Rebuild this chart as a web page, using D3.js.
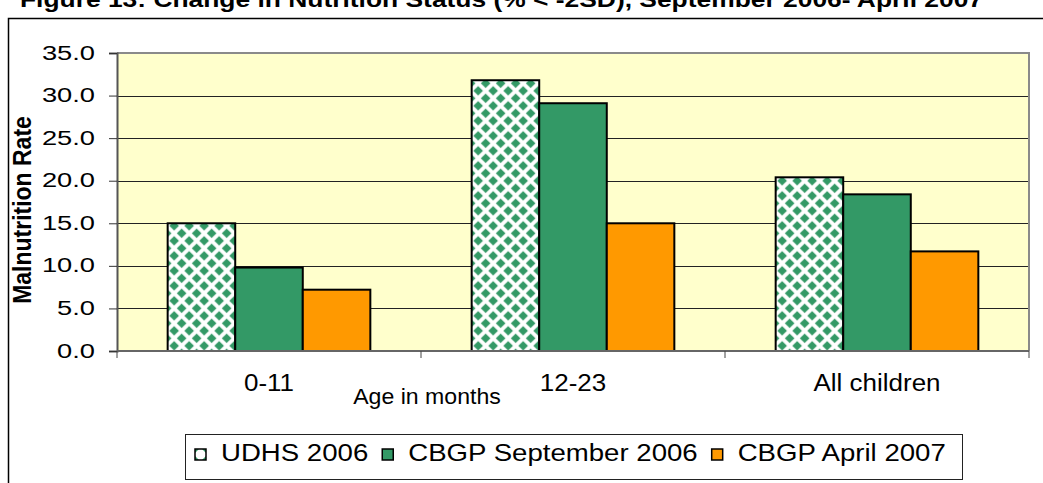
<!DOCTYPE html>
<html>
<head>
<meta charset="utf-8">
<script src="https://cdn.jsdelivr.net/npm/d3@7"></script>
<style>
  body { margin: 0; background: #fff; }
  svg { display: block; font-family: "Liberation Sans", Arial, sans-serif; }
</style>
</head>
<body>
<figure style="margin:0"></figure>
<script>
const categories = ['0-11', '12-23', 'All children'];
const seriesNames = ['UDHS 2006', 'CBGP September 2006', 'CBGP April 2007'];
const udhs2006 = [15.0, 31.8, 20.4];
const cbgpSep2006 = [9.8, 29.1, 18.4];
const cbgpApr2007 = [7.2, 15.0, 11.7];
const yTicks = [0, 5, 10, 15, 20, 25, 30, 35];
const titleText = 'Figure 13: Change in Nutrition Status (% < -2SD), September 2006- April 2007';

(() => {
  const totalWidth = 1043;
  const totalHeight = 483;
  const plot = {left: 117, right: 1029, top: 53, bottom: 351};

  const svg = d3.select('figure').append('svg')
    .attr('width', totalWidth)
    .attr('height', totalHeight);

  // diamond fill used by the UDHS bars
  const defs = svg.append('defs');
  const pat = defs.append('pattern')
    .attr('id', 'diamonds')
    .attr('patternUnits', 'userSpaceOnUse')
    .attr('width', 15).attr('height', 15)
    .attr('x', 6.5).attr('y', 0.8);
  pat.append('rect').attr('width', 15).attr('height', 15).attr('fill', '#fff');
  const diamond = (cx, cy, r) => `M${cx},${cy - r}L${cx + r},${cy}L${cx},${cy + r}L${cx - r},${cy}Z`;
  [[7.5, 7.5], [0, 0], [15, 0], [0, 15], [15, 15]].forEach(([cx, cy]) => {
    pat.append('path').attr('d', diamond(cx, cy, 4.8)).attr('fill', '#339966');
  });

  const swPat = defs.append('pattern')
    .attr('id', 'swatchDiamonds')
    .attr('patternUnits', 'userSpaceOnUse')
    .attr('width', 11).attr('height', 11)
    .attr('x', 195).attr('y', 449);
  swPat.append('rect').attr('width', 11).attr('height', 11).attr('fill', '#fff');
  [[0, 0], [11, 0], [0, 11], [11, 11]].forEach(([cx, cy]) => {
    swPat.append('path').attr('d', diamond(cx, cy, 4)).attr('fill', '#339966');
  });

  const colors = ['url(#diamonds)', '#339966', '#FF9900'];
  const legendColors = ['url(#swatchDiamonds)', '#339966', '#FF9900'];
  const seriesData = [udhs2006, cbgpSep2006, cbgpApr2007];

  // stretched text helper (the original text is a bit wide)
  function label(parent, x, y, txt, size, anchor, sx, weight) {
    return parent.append('text')
      .attr('transform', `translate(${x},${y}) scale(${sx},1)`)
      .attr('text-anchor', anchor)
      .style('font-size', size + 'px')
      .style('font-weight', weight || 'normal')
      .attr('fill', '#000')
      .text(txt);
  }

  // title (cut at the top of the picture, as in the original)
  svg.append('text')
    .attr('x', 20).attr('y', 7)
    .attr('textLength', 963)
    .attr('lengthAdjust', 'spacingAndGlyphs')
    .style('font-size', '22px')
    .style('font-weight', 'bold')
    .text(titleText);

  // outer frame
  svg.append('rect')
    .attr('x', 8.5).attr('y', 18.5)
    .attr('width', 1100).attr('height', 600)
    .attr('fill', 'none')
    .attr('stroke', '#000')
    .attr('stroke-width', 1.5);

  const x0 = d3.scaleBand()
    .domain(categories)
    .range([plot.left, plot.right])
    .paddingInner(1 / 3)
    .paddingOuter(1 / 6);

  const x1 = d3.scaleBand()
    .domain(seriesNames)
    .range([0, x0.bandwidth()]);

  const y = d3.scaleLinear()
    .domain([0, 35])
    .range([plot.bottom, plot.top]);

  // plot background
  svg.append('rect')
    .attr('x', plot.left).attr('y', plot.top)
    .attr('width', plot.right - plot.left)
    .attr('height', plot.bottom - plot.top)
    .attr('fill', '#FFFFCC');

  // gridlines
  svg.append('g')
    .selectAll('line')
    .data(yTicks.filter(t => t > 0 && t < 35))
    .join('line')
      .attr('x1', plot.left).attr('x2', plot.right)
      .attr('y1', d => Math.round(y(d)) + 0.5)
      .attr('y2', d => Math.round(y(d)) + 0.5)
      .attr('stroke', '#222')
      .attr('stroke-width', 1.2);

  // bars
  const groups = svg.append('g')
    .selectAll('g')
    .data(categories)
    .join('g')
      .attr('transform', d => `translate(${x0(d)},0)`);

  groups.selectAll('rect')
    .data((c, ci) => seriesNames.map((s, si) => ({s, si, v: seriesData[si][ci]})))
    .join('rect')
      .attr('x', d => x1(d.s))
      .attr('y', d => y(d.v))
      .attr('width', x1.bandwidth())
      .attr('height', d => y(0) - y(d.v))
      .attr('fill', d => colors[d.si])
      .attr('stroke', '#000')
      .attr('stroke-width', 2);

  // plot border top / right
  svg.append('path')
    .attr('d', `M${plot.left},${plot.top}H${plot.right}V${plot.bottom}`)
    .attr('fill', 'none')
    .attr('stroke', '#8a8a8a')
    .attr('stroke-width', 2);

  // y axis
  const yAxis = d3.axisLeft(y).tickValues(yTicks).tickSize(8).tickFormat('');
  const yGroup = svg.append('g')
    .attr('transform', `translate(${plot.left},0)`)
    .call(yAxis);
  yGroup.select('.domain').attr('stroke', '#555').attr('stroke-width', 2);
  yGroup.selectAll('.tick line').attr('stroke', '#333');

  yTicks.forEach(t => {
    label(svg, 95, y(t) + 6.5, d3.format('.1f')(t), 21, 'end', 1.3);
  });

  // x axis: ticks at category boundaries
  const xGroup = svg.append('g')
    .attr('transform', `translate(0,${plot.bottom})`);
  xGroup.append('line')
    .attr('x1', plot.left).attr('x2', plot.right)
    .attr('stroke', '#666').attr('stroke-width', 2);
  const step = x0.step();
  xGroup.selectAll('.xtick')
    .data(d3.range(categories.length + 1))
    .join('line')
      .attr('class', 'xtick')
      .attr('x1', i => plot.left + i * step)
      .attr('x2', i => plot.left + i * step)
      .attr('y1', 0).attr('y2', 7)
      .attr('stroke', '#444');

  categories.forEach(c => {
    label(svg, x0(c) + x0.bandwidth() / 2, 391, c, 23, 'middle', 1.13);
  });

  label(svg, 427, 403.5, 'Age in months', 22, 'middle', 1.05);

  // y title
  svg.append('text')
    .attr('transform', 'translate(31,210) rotate(-90) scale(1,1.1)')
    .attr('text-anchor', 'middle')
    .style('font-size', '23px')
    .style('font-weight', 'bold')
    .text('Malnutrition Rate');

  // legend
  const legend = svg.append('g');
  legend.append('rect')
    .attr('x', 185.5).attr('y', 434.5)
    .attr('width', 777).attr('height', 45)
    .attr('fill', '#fff')
    .attr('stroke', '#222')
    .attr('stroke-width', 1);

  let lx = 195;
  seriesNames.forEach((s, i) => {
    legend.append('rect')
      .attr('x', lx).attr('y', 449)
      .attr('width', 11).attr('height', 11)
      .attr('fill', legendColors[i])
      .attr('stroke', '#000')
      .attr('stroke-width', 1.5);
    const t = label(legend, lx + 26, 460.5, s, 24, 'start', 1.15);
    lx += 26 + t.node().getComputedTextLength() * 1.15 + 14;
  });
})();
</script>
</body>
</html>
